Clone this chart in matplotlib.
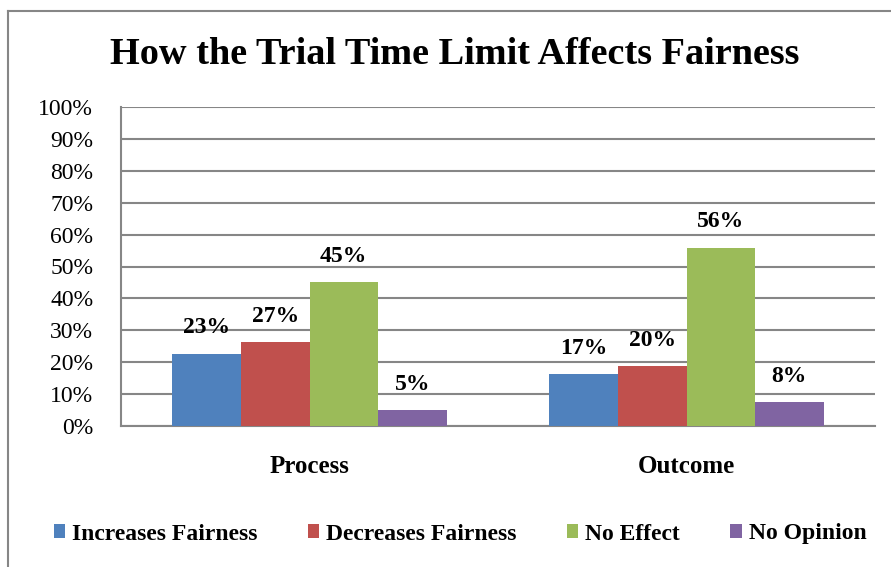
import matplotlib
matplotlib.use("Agg")
import matplotlib.pyplot as plt
from matplotlib.lines import Line2D
from matplotlib.patches import Patch
import numpy as np

categories = ["Process", "Outcome"]
series_names = ["Increases Fairness", "Decreases Fairness", "No Effect", "No Opinion"]
increases = [0.226, 0.163]
decreases = [0.263, 0.188]
no_effect = [0.451, 0.558]
no_opinion = [0.050, 0.075]
value_labels = [["23%", "17%"], ["27%", "20%"], ["45%", "56%"], ["5%", "8%"]]
y_ticks = [0, 0.1, 0.2, 0.3, 0.4, 0.5, 0.6, 0.7, 0.8, 0.9, 1.0]
y_tick_labels = ["0%", "10%", "20%", "30%", "40%", "50%", "60%", "70%", "80%", "90%", "100%"]
colors = ["#4F81BD", "#C0504D", "#9BBB59", "#8064A2"]
title = "How the Trial Time Limit Affects Fairness"

plt.rcParams["font.family"] = ["Liberation Serif", "DejaVu Serif"]

W, H = 891, 567
fig = plt.figure(figsize=(W / 100, H / 100), dpi=100)

# plot area in pixels: left 121, right 875, top 107, bottom 426
ax = fig.add_axes([121 / W, 1 - 426 / H, (875 - 121) / W, (426 - 107) / H])

series = [increases, decreases, no_effect, no_opinion]
x = np.arange(len(categories))
bw = 0.182
offsets = (np.arange(4) - 1.5) * bw
for i, (vals, col) in enumerate(zip(series, colors)):
    bars = ax.bar(x + offsets[i], vals, width=bw, color=col, zorder=3, linewidth=0)
    for j, b in enumerate(bars):
        ax.annotate(value_labels[i][j], (b.get_x() + b.get_width() / 2, b.get_height()),
                    xytext=(0, 26), textcoords="offset pixels", ha="center", va="center",
                    fontsize=17, fontweight="bold", zorder=4)

ax.set_xlim(-0.5, 1.5)
ax.set_ylim(0, 1.0)
ax.set_yticks(y_ticks)
ax.set_yticklabels(y_tick_labels, fontsize=17)
ax.set_xticks(x)
ax.set_xticklabels(categories, fontsize=18, fontweight="bold")
ax.tick_params(axis="y", length=0, pad=20)
ax.tick_params(axis="x", length=0, pad=21)
ax.yaxis.grid(True, color="#868686", linewidth=1.5, zorder=0)
for s in ["top", "right"]:
    ax.spines[s].set_visible(False)
for s in ["left", "bottom"]:
    ax.spines[s].set_color("#868686")
    ax.spines[s].set_linewidth(1.5)

fig.text(455 / W, 1 - 55 / H, title, ha="center", va="center", fontsize=27.5, fontweight="bold")

handles = [Patch(facecolor=c, edgecolor="none") for c in colors]
fig.legend(handles, series_names, loc="center", bbox_to_anchor=(460 / W, 1 - 534 / H),
           ncol=4, frameon=False, handlelength=0.5, handleheight=0.5, handletextpad=0.3,
           columnspacing=2.1, prop={"size": 17, "weight": "bold"})

# chart border (extends beyond image on right and bottom)
fig.add_artist(Line2D([8 / W, 8 / W], [0, 1 - 11 / H], transform=fig.transFigure,
                      color="#868686", linewidth=1.5))
fig.add_artist(Line2D([8 / W, 1], [1 - 11 / H, 1 - 11 / H], transform=fig.transFigure,
                      color="#868686", linewidth=1.5))

fig.savefig("out.png", dpi=100)
